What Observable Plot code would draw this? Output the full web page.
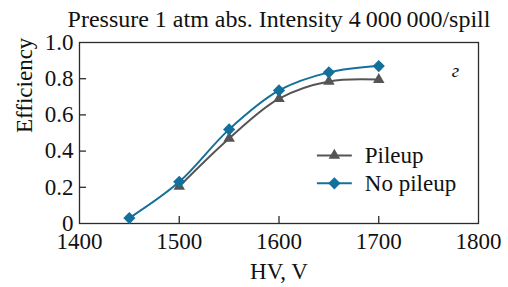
<!DOCTYPE html>
<html>
<head>
<meta charset="utf-8">
<script src="https://cdn.jsdelivr.net/npm/d3@7"></script>
<script src="https://cdn.jsdelivr.net/npm/@observablehq/plot@0.6"></script>
<style>
  html, body { margin: 0; padding: 0; background: #fff; }
  svg { font-family: "Liberation Serif", "DejaVu Serif", serif; }
</style>
</head>
<body>
<div id="chart"></div>
<script>
const title = "Pressure 1 atm abs. Intensity 4\u2009000\u2009000/spill";
const xLabel = "HV, V";
const yLabel = "Efficiency";
const panelLabel = "г";

const hvNoPileup = [1450, 1500, 1550, 1600, 1650, 1700];
const effNoPileup = [0.03, 0.23, 0.52, 0.735, 0.835, 0.87];
const hvPileup = [1500, 1550, 1600, 1650, 1700];
const effPileup = [0.205, 0.47, 0.69, 0.785, 0.795];

const seriesNames = ["Pileup", "No pileup"];
const seriesColors = ["#555555", "#136f9b"];
const seriesSymbols = ["triangle2", "diamond2"];

const xTicks = [1400, 1500, 1600, 1700, 1800];
const yTicks = [0, 0.2, 0.4, 0.6, 0.8, 1.0];

// legend anchor (data coords) and panel label position
const legendX = [1638, 1673];
const legendTextX = 1686;
const legendY = [0.376, 0.222];
const panelLabelPos = {x: 1777, y: 0.845};

const noP = hvNoPileup.map((x, i) => ({x, y: effNoPileup[i]}));
const pil = hvPileup.map((x, i) => ({x, y: effPileup[i]}));
const legend = seriesNames.map((name, i) => ({
  name, color: seriesColors[i], symbol: seriesSymbols[i],
  x1: legendX[0], x2: legendX[1], xm: (legendX[0] + legendX[1]) / 2, y: legendY[i]
}));

const W = 508, H = 287;
const mL = 79, mR = 30, mT = 42, mB = 64;
const fw = W - mL - mR, fh = H - mT - mB;
const ink = "#2b2b2b";

const plot = Plot.plot({
  width: W, height: H,
  marginLeft: mL, marginRight: mR, marginTop: mT, marginBottom: mB,
  style: {fontFamily: "'Liberation Serif', serif", fontSize: "23px", color: ink, background: "#fff"},
  x: {domain: [1400, 1800], label: null},
  y: {domain: [0, 1], label: null},
  marks: [
    Plot.frame({stroke: ink, strokeWidth: 1.3}),
    // inward ticks
    Plot.tickX(xTicks.slice(1, -1), {x: d => d, stroke: ink, strokeWidth: 1.3, insetTop: fh - 7}),
    Plot.tickY(yTicks.slice(1, -1), {y: d => d, stroke: ink, strokeWidth: 1.3, insetRight: fw - 7}),
    // tick labels
    Plot.axisX(xTicks, {tickSize: 0, tickPadding: 9, fontSize: 23, fill: "#111", tickFormat: d => String(d)}),
    Plot.axisY(yTicks, {tickSize: 0, tickPadding: 6, fontSize: 23, fill: "#111", tickFormat: d => d === 0 ? "0" : d.toFixed(1)}),
    // axis titles
    Plot.text([xLabel], {frameAnchor: "bottom", dy: 55, fontSize: 23, fill: "#111"}),
    Plot.text([yLabel], {frameAnchor: "left", dx: -55, rotate: -90, fontSize: 23, fill: "#111"}),
    Plot.text([title], {frameAnchor: "top", dy: -33, fontSize: 24, fill: "#111"}),
    // data
    Plot.line(pil, {x: "x", y: "y", curve: "catmull-rom", stroke: seriesColors[0], strokeWidth: 2}),
    Plot.line(noP, {x: "x", y: "y", curve: "catmull-rom", stroke: seriesColors[1], strokeWidth: 2}),
    Plot.dot(pil, {x: "x", y: "y", symbol: seriesSymbols[0], r: 5.5, fill: seriesColors[0], stroke: "none"}),
    Plot.dot(noP, {x: "x", y: "y", symbol: seriesSymbols[1], r: 5.5, fill: seriesColors[1], stroke: "none"}),
    // legend
    Plot.link(legend, {x1: "x1", x2: "x2", y1: "y", y2: "y", stroke: "color", strokeWidth: 2}),
    Plot.dot(legend, {x: "xm", y: "y", symbol: "symbol", r: 5.5, fill: "color", stroke: "none"}),
    Plot.text(legend, {x: legendTextX, y: "y", text: "name", textAnchor: "start", fontSize: 23, fill: "#111"}),
    // panel label
    Plot.text([panelLabel], {x: panelLabelPos.x, y: panelLabelPos.y, fontSize: 19, fontStyle: "italic", fill: "#111"})
  ]
});
document.getElementById("chart").append(plot);
</script>
</body>
</html>
